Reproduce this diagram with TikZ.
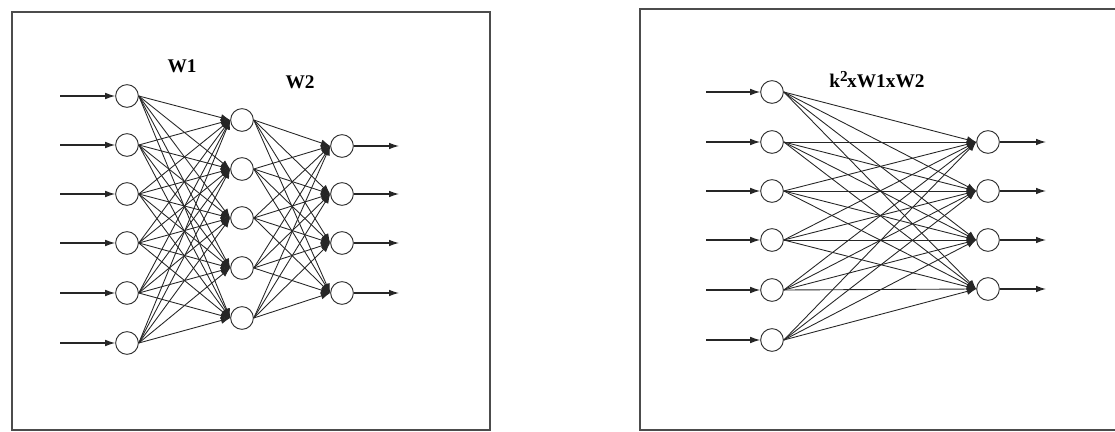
\documentclass[tikz,border=0pt]{standalone}
\usepackage{fontspec}
\setmainfont{Liberation Serif}
\usetikzlibrary{arrows.meta}
\begin{document}
\begin{tikzpicture}[x=0.03cm,y=-0.03cm,
  neuron/.style={circle,draw=black!80,line width=0.8pt,minimum size=0.68cm,inner sep=0pt,fill=white},
  link/.style={draw=black!85,line width=0.75pt,-{Latex[length=2.8mm,width=2.1mm]}},
  io/.style={draw=black!85,line width=1pt,-{Latex[length=3mm,width=2mm]}},
  frame/.style={draw=black!70,line width=1.2pt},
  lbl/.style={font=\fontsize{16.5}{16.5}\selectfont\bfseries,inner sep=0pt}]
\useasboundingbox (0,0) rectangle (1115,432);
% frames
\draw[frame] (12,12) rectangle (490,430);
\draw[frame] (1115,9) -- (640,9) -- (640,430) -- (1115,430);
% ---------- left network ----------
\foreach \i/\y in {1/96,2/145,3/194,4/243,5/293,6/343}{
  \node[neuron] (i\i) at (127,\y) {};
  \coordinate (ii\i) at (60,\y);
}
\foreach \i/\y in {1/120,2/169,3/218,4/268,5/318}{
  \node[neuron] (h\i) at (242,\y) {};
}
\foreach \i/\y in {1/146,2/194,3/243,4/293}{
  \node[neuron] (o\i) at (342,\y) {};
  \coordinate (oo\i) at (399,\y);
}
\foreach \i in {1,...,6}{\draw[io] (ii\i) -- (i\i);}
\foreach \i in {1,...,4}{\draw[io] (o\i) -- (oo\i);}
\foreach \i in {1,...,6}{\foreach \j in {1,...,5}{\draw[link] (i\i.east) -- (h\j.west);}}
\foreach \j in {1,...,5}{\foreach \k in {1,...,4}{\draw[link] (h\j.east) -- (o\k.west);}}
\node[lbl] (w1) at (182,66) {W1};
\node[lbl] (w2) at (300,82) {W2};
% ---------- right network ----------
\foreach \i/\y in {1/92,2/142,3/191,4/240,5/290,6/340}{
  \node[neuron] (a\i) at (772,\y) {};
  \coordinate (aa\i) at (706,\y);
}
\foreach \i/\y in {1/142,2/191,3/240,4/289}{
  \node[neuron] (b\i) at (988,\y) {};
  \coordinate (bb\i) at (1046,\y);
}
\foreach \i in {1,...,6}{\draw[io] (aa\i) -- (a\i);}
\foreach \i in {1,...,4}{\draw[io] (b\i) -- (bb\i);}
\foreach \i in {1,...,6}{\foreach \k in {1,...,4}{\draw[link] (a\i.east) -- (b\k.west);}}
\node[lbl] (kw) at (877,80) {k\raisebox{5pt}{\fontsize{13}{13}\selectfont 2}\kern-0.5pt xW1xW2};
\end{tikzpicture}
\end{document}
